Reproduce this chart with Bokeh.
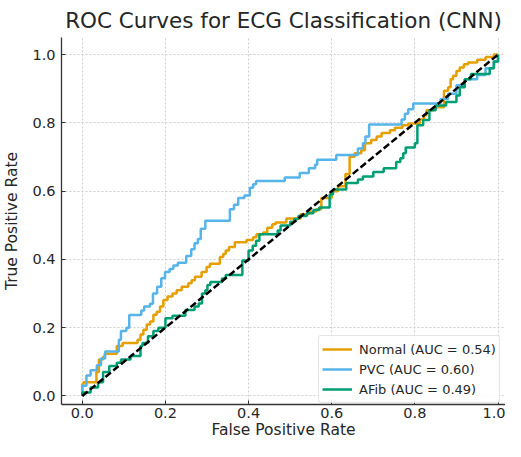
from bokeh.plotting import figure
from bokeh.embed import file_html
from bokeh.resources import INLINE
from bokeh.models import Legend, LegendItem, Range1d, FixedTicker, NumeralTickFormatter

# ---------------- data ----------------
title_text = "ROC Curves for ECG Classification (CNN)"
x_label = "False Positive Rate"
y_label = "True Positive Rate"
tick_values = [0.0, 0.2, 0.4, 0.6, 0.8, 1.0]

normal_label = "Normal (AUC = 0.54)"
normal_fpr = [0, 0, 0.003, 0.034, 0.04, 0.05, 0.054, 0.083, 0.097, 0.133,
              0.14, 0.147, 0.155, 0.163, 0.171, 0.179, 0.187, 0.195, 0.205, 0.217,
              0.227, 0.239, 0.255, 0.263, 0.271, 0.287, 0.299, 0.307, 0.331, 0.339,
              0.345, 0.353, 0.367, 0.395, 0.411, 0.419, 0.435, 0.445, 0.457, 0.465,
              0.491, 0.525, 0.545, 0.563, 0.575, 0.6, 0.615, 0.633, 0.643, 0.655,
              0.671, 0.68, 0.695, 0.708, 0.72, 0.74, 0.752, 0.77, 0.784, 0.812,
              0.822, 0.828, 0.845, 0.87, 0.88, 0.886, 0.892, 0.9, 0.908, 0.918,
              0.928, 0.95, 0.97, 0.99, 1.0]
normal_tpr = [0, 0.035, 0.04, 0.07, 0.107, 0.115, 0.124, 0.146, 0.155, 0.165,
              0.18, 0.194, 0.209, 0.218, 0.238, 0.247, 0.262, 0.281, 0.291, 0.3,
              0.31, 0.32, 0.33, 0.339, 0.349, 0.363, 0.378, 0.387, 0.407, 0.416,
              0.426, 0.436, 0.45, 0.457, 0.465, 0.474, 0.479, 0.493, 0.503, 0.508,
              0.52, 0.532, 0.54, 0.547, 0.58, 0.6, 0.614, 0.65, 0.701, 0.711,
              0.72, 0.74, 0.75, 0.76, 0.77, 0.778, 0.786, 0.793, 0.798, 0.81,
              0.822, 0.837, 0.846, 0.894, 0.904, 0.928, 0.938, 0.952, 0.962, 0.972,
              0.977, 0.985, 0.993, 1.0, 1.0]

pvc_label = "PVC (AUC = 0.60)"
pvc_fpr = [0, 0, 0.01, 0.02, 0.035, 0.045, 0.055, 0.088, 0.093, 0.106,
           0.113, 0.142, 0.149, 0.163, 0.17, 0.18, 0.19, 0.199, 0.21, 0.219,
           0.23, 0.25, 0.262, 0.27, 0.278, 0.285, 0.296, 0.355, 0.365, 0.375,
           0.39, 0.403, 0.411, 0.418, 0.487, 0.523, 0.545, 0.56, 0.565, 0.611,
           0.663, 0.675, 0.681, 0.69, 0.768, 0.776, 0.784, 0.796, 0.862, 0.88,
           0.9, 0.92, 0.95, 0.97, 0.99, 1.0]
pvc_tpr = [0, 0.03, 0.06, 0.075, 0.09, 0.11, 0.13, 0.165, 0.19, 0.2,
           0.237, 0.25, 0.262, 0.27, 0.3, 0.32, 0.345, 0.363, 0.372, 0.382,
           0.39, 0.41, 0.43, 0.447, 0.46, 0.49, 0.513, 0.547, 0.56, 0.58,
           0.587, 0.61, 0.62, 0.63, 0.64, 0.653, 0.667, 0.677, 0.692, 0.706,
           0.725, 0.74, 0.76, 0.795, 0.81, 0.827, 0.84, 0.857, 0.87, 0.885,
           0.91, 0.928, 0.94, 0.96, 0.98, 1.0]

afib_label = "AFib (AUC = 0.49)"
afib_fpr = [0, 0, 0.02, 0.038, 0.05, 0.065, 0.083, 0.093, 0.116, 0.14,
            0.145, 0.158, 0.171, 0.183, 0.2, 0.217, 0.248, 0.27, 0.28, 0.288,
            0.296, 0.301, 0.308, 0.336, 0.345, 0.385, 0.4, 0.41, 0.418, 0.426,
            0.47, 0.477, 0.5, 0.51, 0.52, 0.54, 0.556, 0.57, 0.595, 0.603,
            0.635, 0.663, 0.675, 0.7, 0.725, 0.755, 0.765, 0.772, 0.778, 0.8,
            0.806, 0.82, 0.835, 0.85, 0.875, 0.9, 0.908, 0.92, 0.935, 0.98,
            0.99, 1.0]
afib_tpr = [0, 0.01, 0.025, 0.04, 0.07, 0.088, 0.097, 0.107, 0.117, 0.146,
            0.155, 0.175, 0.19, 0.2, 0.228, 0.235, 0.252, 0.262, 0.271, 0.3,
            0.31, 0.325, 0.334, 0.344, 0.354, 0.397, 0.426, 0.44, 0.455, 0.474,
            0.485, 0.499, 0.51, 0.518, 0.527, 0.535, 0.545, 0.552, 0.59, 0.605,
            0.624, 0.634, 0.643, 0.656, 0.667, 0.685, 0.696, 0.711, 0.728, 0.74,
            0.793, 0.808, 0.837, 0.851, 0.861, 0.88, 0.904, 0.928, 0.943, 0.96,
            0.98, 1.0]

chance_x = [0, 1]
chance_y = [0, 1]

colors = {"normal": "#E69F00", "pvc": "#56B4E9", "afib": "#009E73"}
FONT = "DejaVu Sans"
TXT = "#262626"

# ---------------- figure ----------------
p = figure(width=505, height=441, output_backend="svg", toolbar_location=None,
           x_range=Range1d(-0.05, 1.018), y_range=Range1d(-0.025, 1.05),
           min_border_left=58, min_border_right=0, min_border_top=27,
           min_border_bottom=30)
p.background_fill_color = "white"
p.border_fill_color = "white"
p.outline_line_color = None

p.title.text = title_text
p.title.align = "center"
p.title.text_font = FONT
p.title.text_font_size = "21.5px"
p.title.text_font_style = "normal"
p.title.text_color = TXT

for ax in (p.xaxis[0], p.yaxis[0]):
    ax.ticker = FixedTicker(ticks=tick_values)
    ax.formatter = NumeralTickFormatter(format="0.0")
    ax.minor_tick_line_color = None
    ax.major_tick_in = 4
    ax.major_tick_out = 0
    ax.major_tick_line_color = "#333333"
    ax.axis_line_color = "#333333"
    ax.axis_line_width = 1.3
    ax.major_label_text_font = FONT
    ax.major_label_text_font_size = "14.5px"
    ax.major_label_text_color = TXT
    ax.axis_label_text_font = FONT
    ax.axis_label_text_font_size = "15.5px"
    ax.axis_label_text_font_style = "normal"
    ax.axis_label_text_color = TXT

p.xaxis.axis_label = x_label
p.yaxis.axis_label = y_label
p.xaxis.major_label_standoff = 3
p.yaxis.major_label_standoff = 6
p.xaxis.axis_label_standoff = 0
p.yaxis.axis_label_standoff = 8

for g in (p.xgrid[0], p.ygrid[0]):
    g.ticker = FixedTicker(ticks=tick_values)
    g.grid_line_color = "#c8c8c8"
    g.grid_line_dash = "2 2"
    g.grid_line_width = 0.9

r_normal = p.step(normal_fpr, normal_tpr, mode="after", line_color=colors["normal"], line_width=2.5)
r_pvc = p.step(pvc_fpr, pvc_tpr, mode="after", line_color=colors["pvc"], line_width=2.5)
r_afib = p.step(afib_fpr, afib_tpr, mode="after", line_color=colors["afib"], line_width=2.5)
p.line(chance_x, chance_y, line_color="black", line_width=2.5, line_dash="7 3")

legend = Legend(items=[LegendItem(label=normal_label, renderers=[r_normal]),
                       LegendItem(label=pvc_label, renderers=[r_pvc]),
                       LegendItem(label=afib_label, renderers=[r_afib])],
                location=(257, 1))
legend.label_text_font = FONT
legend.label_text_font_size = "13px"
legend.label_text_color = TXT
legend.glyph_width = 30
legend.glyph_height = 20
legend.label_height = 20
legend.label_standoff = 7
legend.padding = 3
legend.spacing = 0
legend.margin = 0
legend.border_line_color = "#cccccc"
legend.border_line_width = 1
legend.border_radius = 3
legend.background_fill_color = "white"
legend.background_fill_alpha = 0.85
p.add_layout(legend, "center")

open("out.html", "w").write(file_html(p, INLINE))
